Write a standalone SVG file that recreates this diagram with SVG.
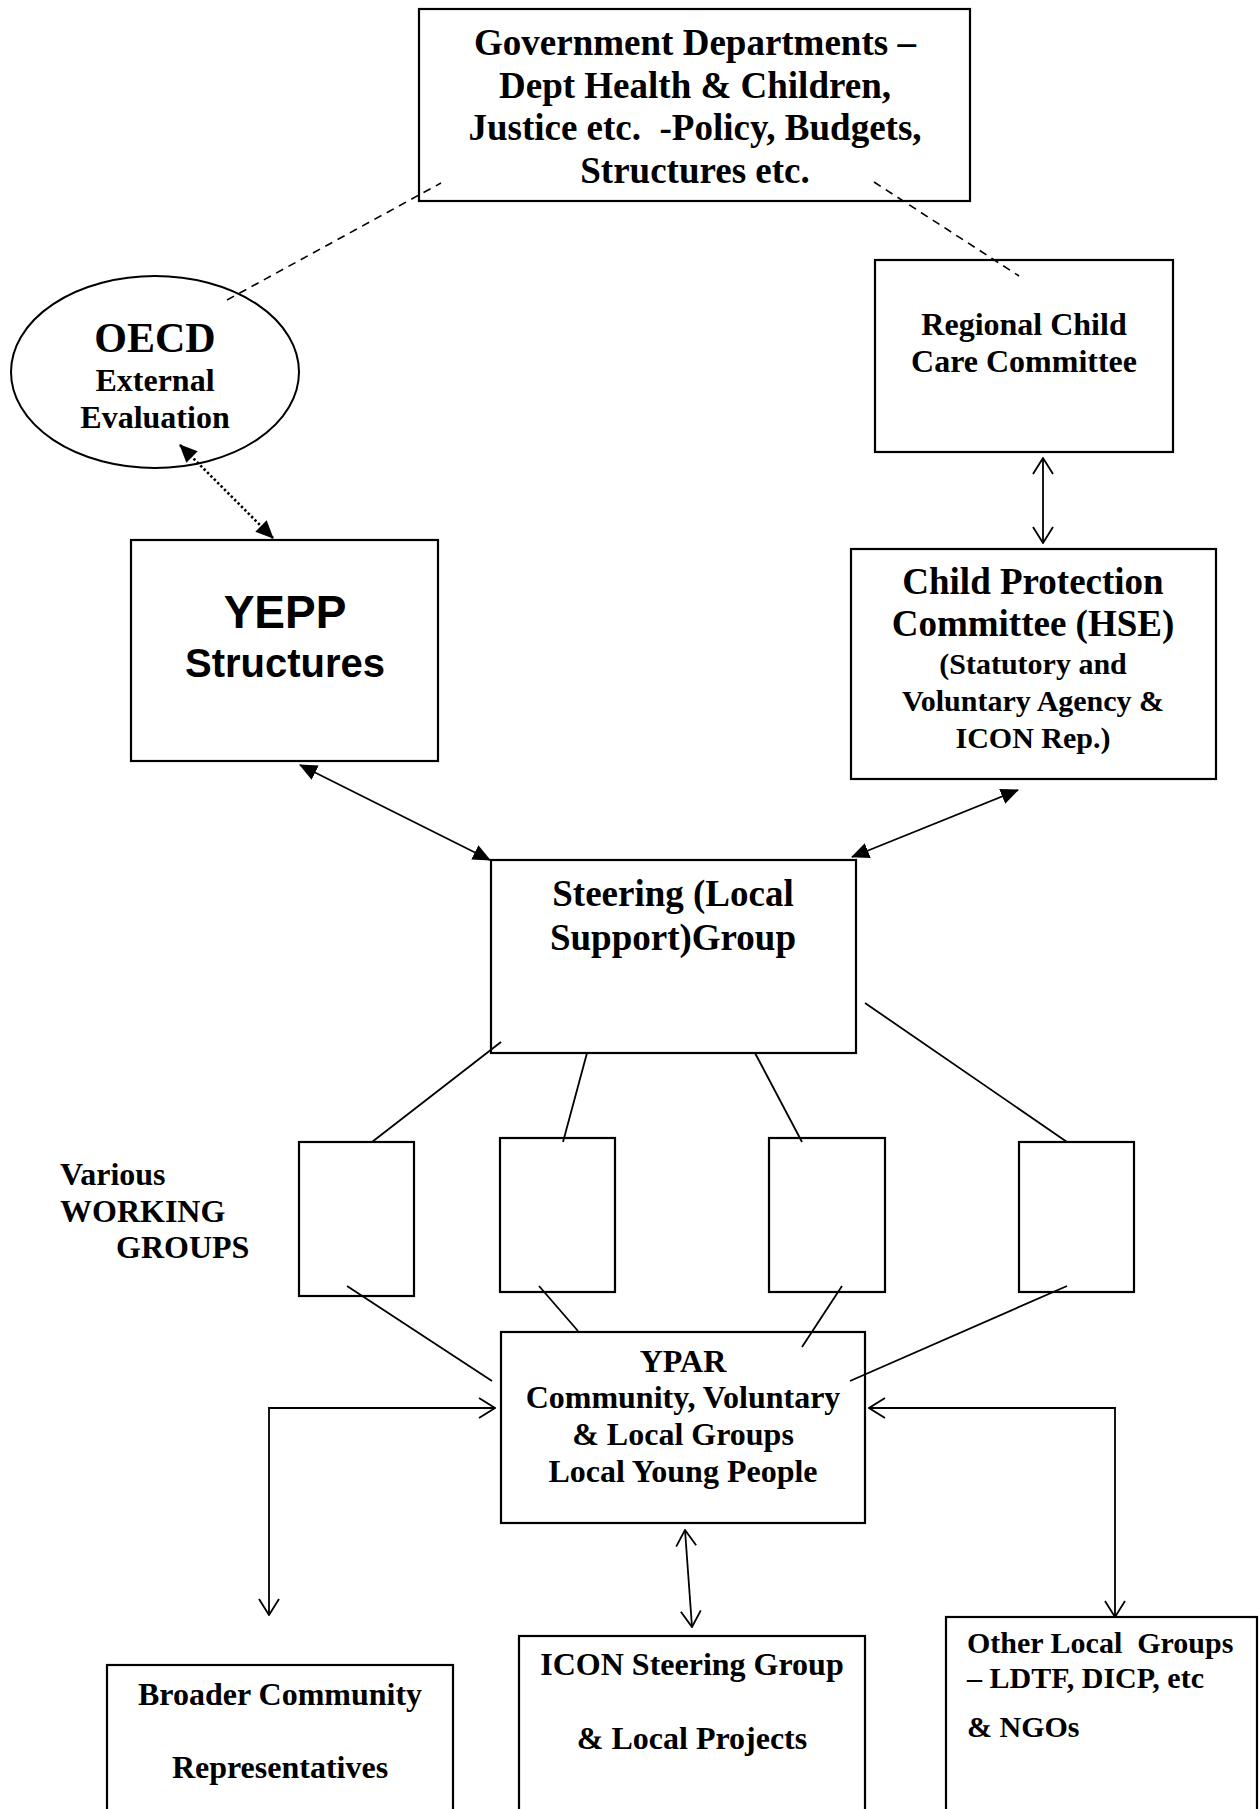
<svg xmlns="http://www.w3.org/2000/svg" width="1259" height="1809" viewBox="0 0 1259 1809">
<style>
.box{fill:#fff;stroke:#000;stroke-width:2.2}
.t{font-family:"Liberation Serif","Times New Roman",serif;font-weight:bold;fill:#000;text-anchor:middle}
.s{font-family:"Liberation Sans",Arial,sans-serif;font-weight:bold;fill:#000;text-anchor:middle}
.l{text-anchor:start}
.ln{stroke:#000;stroke-width:1.8;fill:none}
.dash{stroke:#000;stroke-width:1.6;fill:none;stroke-dasharray:8 6}
.dot{stroke:#000;stroke-width:2.6;fill:none;stroke-dasharray:2.4 2.4}
</style>
<defs>
<marker id="fa" viewBox="0 0 18 16" refX="17" refY="8" markerWidth="18" markerHeight="16" markerUnits="userSpaceOnUse" orient="auto-start-reverse"><path d="M0,0 L18,8 L0,16 z" fill="#000"/></marker>
<marker id="oa" viewBox="0 0 18 22" refX="17" refY="11" markerWidth="18" markerHeight="22" markerUnits="userSpaceOnUse" orient="auto-start-reverse"><path d="M1,1 L17,11 L1,21" fill="none" stroke="#000" stroke-width="1.8"/></marker>
</defs>

<g id="gov">
<rect class="box" x="419" y="9" width="551" height="192"/>
<text class="t" font-size="37" x="695" y="55">Government Departments –</text>
<text class="t" font-size="37" x="695" y="98">Dept Health &amp; Children,</text>
<text class="t" font-size="37" x="695" y="140" style="white-space:pre">Justice etc.  -Policy, Budgets,</text>
<text class="t" font-size="37" x="695" y="183">Structures etc.</text>
</g>

<g id="oecd">
<ellipse cx="155" cy="372" rx="144" ry="96" fill="#fff" stroke="#000" stroke-width="2"/>
<text class="t" font-size="42" x="155" y="352">OECD</text>
<text class="t" font-size="32" x="155" y="391">External</text>
<text class="t" font-size="32" x="155" y="428">Evaluation</text>
</g>

<g id="rcc">
<rect class="box" x="875" y="260" width="298" height="192"/>
<text class="t" font-size="32" x="1024" y="335">Regional Child</text>
<text class="t" font-size="32" x="1024" y="372">Care Committee</text>
</g>

<g id="cpc">
<rect class="box" x="851" y="549" width="365" height="230"/>
<text class="t" font-size="37" x="1033" y="594">Child Protection</text>
<text class="t" font-size="37" x="1033" y="636">Committee (HSE)</text>
<text class="t" font-size="30" x="1033" y="674">(Statutory and</text>
<text class="t" font-size="30" x="1033" y="711">Voluntary Agency &amp;</text>
<text class="t" font-size="30" x="1033" y="748">ICON Rep.)</text>
</g>

<g id="yepp">
<rect class="box" x="131" y="540" width="307" height="221"/>
<text class="s" font-size="46" x="285" y="628">YEPP</text>
<text class="s" font-size="40" x="285" y="677">Structures</text>
</g>

<g id="steering">
<rect class="box" x="491" y="860" width="365" height="193"/>
<text class="t" font-size="37" x="673" y="906">Steering (Local</text>
<text class="t" font-size="37" x="673" y="950">Support)Group</text>
</g>

<g id="wg-label">
<text class="t l" font-size="32" x="60" y="1185">Various</text>
<text class="t l" font-size="32" x="60" y="1222">WORKING</text>
<text class="t l" font-size="32" x="116" y="1258">GROUPS</text>
</g>

<g id="wg1"><rect class="box" x="299" y="1142" width="115" height="154"/></g>
<g id="wg2"><rect class="box" x="500" y="1138" width="115" height="154"/></g>
<g id="wg3"><rect class="box" x="769" y="1138" width="116" height="154"/></g>
<g id="wg4"><rect class="box" x="1019" y="1142" width="115" height="150"/></g>

<g id="ypar">
<rect class="box" x="501" y="1332" width="364" height="191"/>
<text class="t" font-size="32" x="683" y="1372">YPAR</text>
<text class="t" font-size="32" x="683" y="1408">Community, Voluntary</text>
<text class="t" font-size="32" x="683" y="1445">&amp; Local Groups</text>
<text class="t" font-size="32" x="683" y="1482">Local Young People</text>
</g>

<g id="broader">
<rect class="box" x="107" y="1665" width="346" height="170"/>
<text class="t" font-size="32" x="280" y="1705">Broader Community</text>
<text class="t" font-size="32" x="280" y="1778">Representatives</text>
</g>

<g id="icon">
<rect class="box" x="519" y="1636" width="346" height="200"/>
<text class="t" font-size="32" x="692" y="1675">ICON Steering Group</text>
<text class="t" font-size="32" x="692" y="1749">&amp; Local Projects</text>
</g>

<g id="other">
<rect class="box" x="946" y="1617" width="311" height="220"/>
<text class="t l" font-size="30" x="967" y="1653" style="white-space:pre">Other Local  Groups</text>
<text class="t l" font-size="30" x="967" y="1688">– LDTF, DICP, etc</text>
<text class="t l" font-size="30" x="967" y="1737">&amp; NGOs</text>
</g>

<g id="connectors">
<line class="dash" x1="227" y1="300" x2="441" y2="183"/>
<line class="dash" x1="874" y1="182" x2="1019" y2="276"/>
<line class="dot" x1="180" y1="445" x2="273" y2="538" marker-start="url(#fa)" marker-end="url(#fa)"/>
<line class="ln" x1="1043" y1="458" x2="1043" y2="543" marker-start="url(#oa)" marker-end="url(#oa)"/>
<line class="ln" x1="300" y1="765" x2="490" y2="860" marker-start="url(#fa)" marker-end="url(#fa)"/>
<line class="ln" x1="1018" y1="790" x2="852" y2="857" marker-start="url(#fa)" marker-end="url(#fa)"/>
<line class="ln" x1="501" y1="1042" x2="372" y2="1142"/>
<line class="ln" x1="587" y1="1053" x2="563" y2="1142"/>
<line class="ln" x1="755" y1="1053" x2="802" y2="1142"/>
<line class="ln" x1="865" y1="1003" x2="1067" y2="1142"/>
<line class="ln" x1="347" y1="1286" x2="492" y2="1381"/>
<line class="ln" x1="539" y1="1286" x2="578" y2="1331"/>
<line class="ln" x1="842" y1="1286" x2="802" y2="1347"/>
<line class="ln" x1="1067" y1="1286" x2="850" y2="1381"/>
<path class="ln" d="M495,1408 L269,1408 L269,1615" marker-start="url(#oa)" marker-end="url(#oa)"/>
<path class="ln" d="M869,1408 L1115,1408 L1115,1617" marker-start="url(#oa)" marker-end="url(#oa)"/>
<line class="ln" x1="685" y1="1530" x2="692" y2="1627" marker-start="url(#oa)" marker-end="url(#oa)"/>
</g>
</svg>
